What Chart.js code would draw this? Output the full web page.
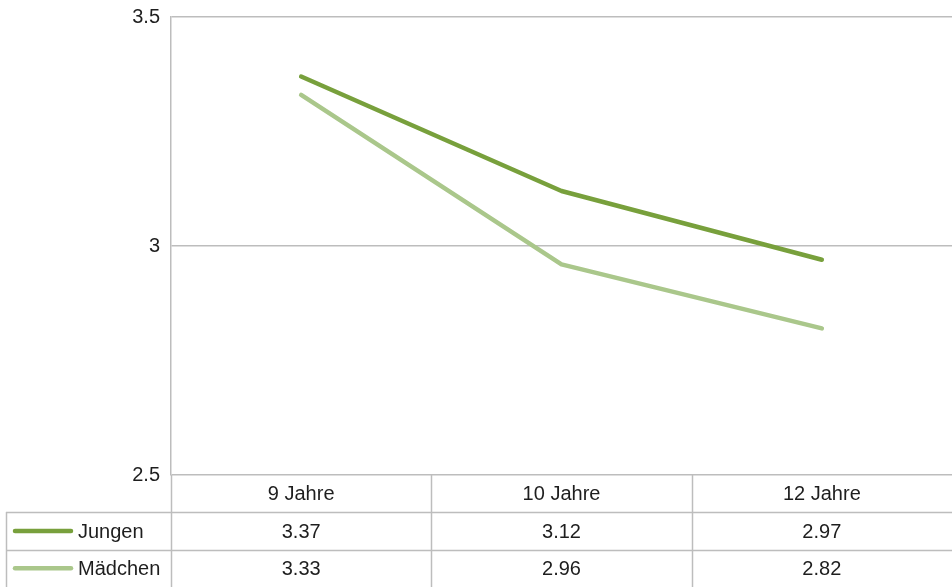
<!DOCTYPE html>
<html>
<head>
<meta charset="utf-8">
<script src="https://cdn.jsdelivr.net/npm/chart.js@4"></script>
<style>
  html, body { margin: 0; padding: 0; background: #fff; }
  #wrap { width: 952px; height: 587px; position: relative; }
</style>
</head>
<body>
<div id="wrap"><canvas id="myChart"></canvas></div>
<script>
const categories = ["9 Jahre", "10 Jahre", "12 Jahre"];
const jungen = [3.37, 3.12, 2.97];
const maedchen = [3.33, 2.96, 2.82];
const seriesNames = ["Jungen", "Mädchen"];
const yMin = 2.5;
const yMax = 3.5;
const yStep = 0.5;

const gridColor = "#bdbdbd";
const textColor = "#1e1e1e";
const fontFamily = "'Liberation Sans', Arial, sans-serif";
const font = "20px " + fontFamily;

// draws the data table under the plot
const tablePlugin = {
  id: "dataTable",
  afterDraw(chart) {
    const c = chart.ctx;
    const area = chart.chartArea;
    const xs = chart.scales.x;
    const sets = chart.data.datasets;
    const rowH = (chart.height - area.bottom) / 3;
    const colW = (area.right - area.left) / categories.length;
    const tableLeft = 6;

    c.save();
    c.strokeStyle = gridColor;
    c.lineWidth = 1.5;
    // horizontal lines
    for (let r = 1; r < 3; r++) {
      let y = Math.round(area.bottom + rowH * r) + 0.5;
      c.beginPath();
      c.moveTo(tableLeft, y);
      c.lineTo(area.right, y);
      c.stroke();
    }
    // vertical lines
    for (let i = 0; i < categories.length; i++) {
      let x = Math.round(area.left + colW * i) + 0.5;
      c.beginPath();
      c.moveTo(x, area.bottom);
      c.lineTo(x, chart.height);
      c.stroke();
    }
    c.beginPath();
    c.moveTo(tableLeft + 0.5, Math.round(area.bottom + rowH));
    c.lineTo(tableLeft + 0.5, chart.height);
    c.stroke();

    // text
    c.font = font;
    c.fillStyle = textColor;
    c.textAlign = "center";
    c.textBaseline = "middle";
    categories.forEach((cat, i) => {
      c.fillText(cat, xs.getPixelForValue(i), area.bottom + rowH * 0.5 + 1);
    });
    sets.forEach((ds, r) => {
      let yc = area.bottom + rowH * (r + 1.5) + 1;
      ds.data.forEach((v, i) => {
        c.textAlign = "center";
        c.fillText(v.toFixed(2), xs.getPixelForValue(i), yc);
      });
      // legend key
      c.strokeStyle = ds.borderColor;
      c.lineWidth = 4.5;
      c.lineCap = "round";
      c.beginPath();
      c.moveTo(15, yc - 1);
      c.lineTo(71, yc - 1);
      c.stroke();
      c.textAlign = "left";
      c.fillText(ds.label, 78, yc);
    });
    c.restore();
  },
};

const ctx = document.getElementById("myChart");

new Chart(ctx, {
  type: "line",
  data: {
    labels: categories,
    datasets: [
      {
        label: seriesNames[0],
        data: jungen,
        borderColor: "#78a03c",
        borderWidth: 4.5,
        borderCapStyle: "round",
        borderJoinStyle: "round",
        pointRadius: 0,
        tension: 0,
      },
      {
        label: seriesNames[1],
        data: maedchen,
        borderColor: "#aac78b",
        borderWidth: 4.5,
        borderCapStyle: "round",
        borderJoinStyle: "round",
        pointRadius: 0,
        tension: 0,
      },
    ],
  },
  options: {
    responsive: true,
    maintainAspectRatio: false,
    animation: false,
    layout: { padding: { top: 17, left: 0, right: 0, bottom: 0 } },
    plugins: {
      legend: { display: false },
      tooltip: { enabled: false },
    },
    scales: {
      x: {
        offset: true,
        ticks: { display: false },
        grid: { display: false },
        border: { display: false },
        afterFit(scale) {
          scale.height = 112;
        },
      },
      y: {
        min: yMin,
        max: yMax,
        ticks: {
          stepSize: yStep,
          color: textColor,
          font: { family: fontFamily, size: 20 },
          padding: 11,
          callback: (v) => String(v),
        },
        grid: { color: gridColor, lineWidth: 1.5, drawTicks: false },
        border: { color: gridColor, width: 1.5 },
        afterFit(scale) {
          scale.width = 171;
          scale.paddingTop = 0;
          scale.paddingBottom = 0;
        },
      },
    },
  },
  plugins: [tablePlugin],
});
</script>
</body>
</html>
